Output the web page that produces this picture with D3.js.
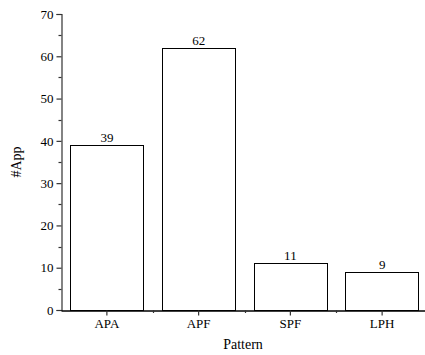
<!DOCTYPE html>
<html><head><meta charset="utf-8">
<script src="https://cdn.jsdelivr.net/npm/d3@7"></script>
<style>body{margin:0;background:#fff}svg{display:block}text{font-family:"Liberation Serif","Times New Roman",serif}</style>
</head><body><svg id="c" width="425" height="355"></svg>
<script>
const categories = ["APA", "APF", "SPF", "LPH"];
const values = [39, 62, 11, 9];
const yTicks = [0, 10, 20, 30, 40, 50, 60, 70];
const yMinor = [5, 15, 25, 35, 45, 55, 65];

const svg = d3.select("#c");
const x0 = 61, x1 = 428, yTop = 14, yBot = 310;
const x = d3.scaleBand().domain(categories).range([x0, x1]).paddingInner(0.2).paddingOuter(0.1);
const xc = d3.scaleBand().domain(categories).range([x0, x1]);
const y = d3.scaleLinear().domain([0, 70]).range([yBot, yTop]);
const axisCol = "#333";

// bars
svg.selectAll("rect.bar").data(values).join("rect")
  .attr("x", (d, i) => Math.round(x(categories[i])) + 0.5)
  .attr("y", d => Math.round(y(d)) + 0.5)
  .attr("width", Math.round(x.bandwidth()))
  .attr("height", d => Math.round(yBot - y(d)))
  .attr("fill", "#fff").attr("stroke", "#000").attr("stroke-width", 1);

svg.selectAll("text.val").data(values).join("text")
  .attr("x", (d, i) => x(categories[i]) + x.bandwidth() / 2)
  .attr("y", d => y(d) - 3)
  .attr("text-anchor", "middle").attr("font-size", 13).attr("fill", "#000")
  .text(d => d);

// y axis
const ya = svg.append("g").attr("transform", `translate(${x0 + 0.5},0)`)
  .call(d3.axisLeft(y).tickValues(yTicks).tickSize(5).tickPadding(3).tickFormat(d3.format("d")));
ya.select(".domain").attr("stroke", axisCol).attr("stroke-width", 1.2);
ya.selectAll(".tick line").attr("stroke", axisCol).attr("stroke-width", 1.2);
ya.selectAll(".tick text").attr("font-size", 13).attr("fill", "#000").attr("font-family", "Liberation Serif");
svg.append("g").selectAll("line").data(yMinor).join("line")
  .attr("x1", x0 + 0.5).attr("x2", x0 - 2.5)
  .attr("y1", d => Math.round(y(d)) + 0.5).attr("y2", d => Math.round(y(d)) + 0.5)
  .attr("stroke", axisCol).attr("stroke-width", 1.2);

// x axis
const xa = svg.append("g").attr("transform", `translate(0,${yBot + 0.5})`)
  .call(d3.axisBottom(xc).tickSize(5).tickPadding(3).tickSizeOuter(0));
xa.select(".domain").attr("stroke", "#000").attr("stroke-width", 1.4);
xa.selectAll(".tick line").attr("stroke", axisCol).attr("stroke-width", 1.2);
xa.selectAll(".tick text").attr("font-size", 13).attr("fill", "#000").attr("font-family", "Liberation Serif");
svg.append("g").selectAll("line").data(categories.slice(1)).join("line")
  .attr("x1", d => Math.round(xc(d)) + 0.5).attr("x2", d => Math.round(xc(d)) + 0.5)
  .attr("y1", yBot).attr("y2", yBot + 3)
  .attr("stroke", axisCol).attr("stroke-width", 1.2);

svg.append("text").attr("x", 243).attr("y", 349).attr("text-anchor", "middle")
  .attr("font-size", 14).text("Pattern");
svg.append("text").attr("transform", `translate(21,${(yTop + yBot) / 2}) rotate(-90)`)
  .attr("text-anchor", "middle").attr("font-size", 14).text("#App");
</script></body></html>
